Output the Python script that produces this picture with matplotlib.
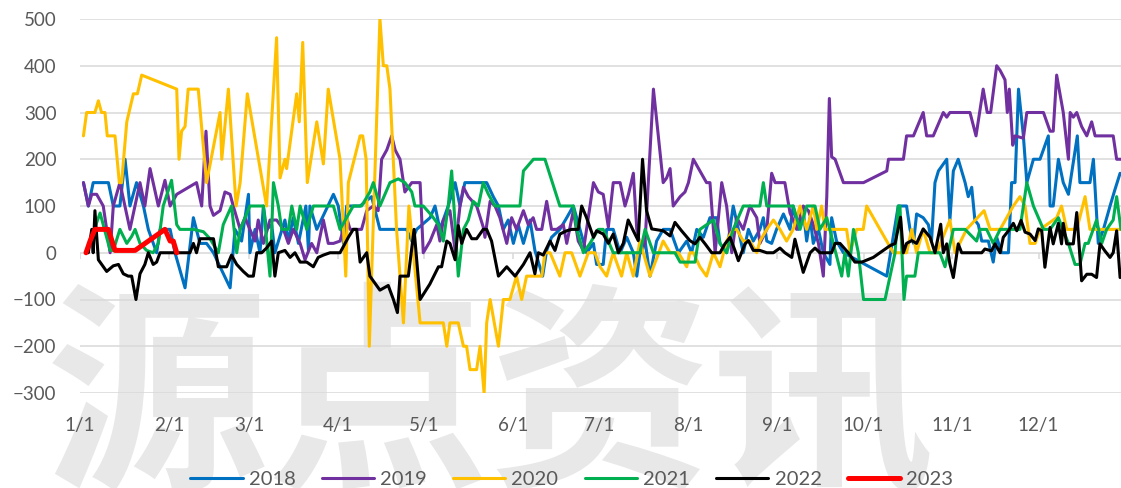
import matplotlib
matplotlib.use("Agg")
import matplotlib.pyplot as plt

# ---- data (day of year, value) ----
d2018 = [1.2, 2.9, 4.6, 9.9, 11.6, 13.9, 15.7, 17.4, 19.7, 22.1, 23.8, 26.7, 27.9, 31.4, 33.1, 36.6, 39.5, 41.8,
         44.1, 46.5, 48.8, 52.3, 54.0, 56.3, 58.7, 59.2, 61.0, 62.7, 63.9, 65.0, 66.8, 67.9, 71.4, 72.6, 74.3, 76.1,
         78.7, 79.6, 80.1, 82.5, 88.3, 90.0, 91.8, 92.9,
         97.6, 101.6, 104.5, 113.8, 115.6, 117.3, 122.0, 123.7, 125.4, 128.3, 130.7, 132.4, 134.1, 140.5,
         141.7, 144.0, 145.8, 147.5, 149.2, 151.0, 152.7, 154.5, 156.8, 158.5, 161.2, 162.6, 164.3, 167.2, 169.6,
         171.9, 174.2, 176.5, 178.9, 180.0, 182.3, 183.5, 185.8, 188.2,
         190.5, 192.8, 194.0, 195.1, 196.9, 198.6, 200.9, 203.2, 205.6, 208.5, 211.4, 213.1, 214.9, 217.2, 219.5,
         221.8, 223.0, 225.3, 227.6, 229.4, 231.1, 232.9, 234.6, 236.9,
         238.1, 239.3, 241.0, 242.7, 245.1, 247.4, 248.5, 250.3, 252.0, 253.2, 254.4, 255.5, 257.3, 259.0, 261.3,
         261.9, 263.6, 266.0, 281.1, 285.1,
         288.0, 289.2, 290.4, 291.5, 293.8, 295.6, 296.7, 297.9, 299.1, 302.0, 303.1, 304.3, 306.0, 308.4, 309.5,
         310.7, 311.8, 313.0, 314.2, 316.5, 318.2, 319.4, 321.1,
         323.5, 324.6, 325.8, 327.0, 328.7, 329.9, 332.2, 334.5, 337.4, 338.0, 339.1, 340.9, 342.6, 344.4, 347.5,
         348.4, 351.9, 353.1, 354.8, 356.6, 358.9, 360.6, 362.4]
v2018 = [150, 100, 150, 150, 100, 100, 200, 100, 150, 100, 50, 0, 50, 50, 0, -75, 75, 20,
         20, 0, -30, -75, 50, 25, 125, 0, 50, 0, 100, 50, 60, 0, 70, 25, 75, 20, 100, 5, 100, 50, 125, 100, 20, 100,
         100, 120, 50, 50, 25, 50, 75, 100, 50, 100, 150, 100, 150, 150,
         150, 120, 100, 50, 70, 20, 60, 20, 70, 5, -50, 5, 33, 50, 75, 100, 50, 0, 20, -25, -25, 50, 50, 0,
         33, 0, -50, 0, 25, -50, 25, 50, 50, 0, 25, 0, 50, 33, 75, 75, 20, 0, 100, 50, 0, 50, 25, 50,
         75, 25, 20, 50, 83, 50, 100, 50, 90, 25, 75, 20, 50, 0, -25, 75, 25, 0, -50, 100,
         100, 50, 20, 83, 75, 60, 25, 150, 175, 200, 70, 175, 200, 150, 120, 140, 70, 60, 25, 25, -20, 33, 0,
         0, 150, 150, 350, 250, 150, 200, 200, 250, 100, 100, 200, 150, 125, 250, 150, 150, 200, 20, 50, 100, 135, 170]

d2019 = [1.2, 2.9, 4.1, 5.8, 8.1, 10.5, 11.6, 13.9, 17.4, 20.9, 22.6, 24.4, 27.3, 29.6, 31.4, 33.7, 40.6, 42.4, 43.9,
         45.3, 46.5, 48.8, 50.5, 52.3, 53.4, 55.8, 57.5, 59.2, 61.0, 62.1, 63.9, 66.2, 68.5, 70.9, 72.6, 74.3, 76.7,
         78.4, 80.7, 82.5, 84.8, 86.5, 88.3, 90.6, 92.9,
         94.1, 98.1, 99.9, 102.2, 103.9, 105.1, 106.9, 108.6, 109.8, 111.5, 113.2, 115.6, 118.5, 119.6, 122.0,
         124.3, 125.4, 126.6, 128.9, 130.7, 132.4, 133.6, 135.3, 138.2, 140.5,
         141.1, 142.9, 144.6, 146.3, 148.7, 150.4, 152.1, 154.5, 156.2, 157.9, 159.1, 160.9, 162.6, 164.3, 166.1,
         168.4, 169.6, 171.9, 173.6, 175.4, 176.5, 178.9, 180.6, 182.3, 184.1, 185.8, 188.2,
         189.9, 191.1, 192.8, 194.0, 195.7, 196.9, 199.8, 203.2, 204.4, 205.6, 206.7, 209.1, 210.8, 212.0, 213.7,
         216.0, 218.3, 219.5, 221.3, 223.6, 225.3, 227.1, 228.8, 231.1, 233.4, 235.8,
         236.9, 239.3, 241.0, 242.2, 245.6, 247.4, 248.5, 249.7, 252.0, 253.8, 255.5, 257.3, 259.0, 260.2, 261.1,
         261.9, 263.1, 266.0, 273.0, 281.1, 281.7, 286.9, 288.0,
         290.4, 293.8, 295.0, 297.3, 300.8, 302.0, 303.1, 310.1, 312.2, 314.7, 316.1, 317.3, 319.4,
         320.6, 322.3, 323.1, 323.8, 325.0, 325.8, 328.7, 329.9, 335.7, 338.0, 339.1, 340.3, 342.6, 344.4, 345.0,
         346.1, 347.3, 349.0, 350.8, 352.5, 353.7, 360.0, 361.2, 362.7]
v2019 = [150, 100, 125, 125, 100, 0, 100, 150, 50, 150, 100, 180, 100, 155, 100, 125, 150, 100, 260,
         100, 80, 90, 130, 125, 100, 50, 75, 50, 25, 70, 20, 70, 70, 50, 20, 50, 20, -15, 20, 0, 70, 20, 20, 25, 75,
         50, 50, 90, 100, 90, 200, 220, 250, 220, 200, 130, 150, 150, 0, 25, 60, 25, 70, 90, 5, 100, 140, 120, 100, 55,
         33, 110, 100, 75, 20, 75, 50, 90, 60, 75, 50, 50, 110, 50, 50, 60, 20, 90, 25, 5, 50, 150, 130, 125, 55,
         150, 150,
         100, 125, 170, 50, 0, 25, 350, 150, 160, 180, 100, 120, 130, 150, 200, 175, 150, 150, 0, 150, 100, 0, 75, 50,
         100, 75,
         20, 50, 170, 150, 150, 85, 70, 50, 100, 90, 60, 20, -50, 120, 330, 205, 200, 150, 150, 175, 200, 200, 250,
         250, 300, 250, 250, 300, 290, 300, 300, 250, 350, 300, 300, 400,
         390, 370, 300, 350, 230, 250, 245, 300, 300, 260, 260, 380, 300, 200, 300, 290, 300, 270, 250, 280, 250,
         250, 200, 200]

d2020 = [1.2, 2.3, 5.2, 6.4, 7.5, 8.7, 9.5, 12.2, 13.7, 14.5, 16.3, 18.6, 20.0, 21.5, 33.7, 34.5, 35.4, 36.6, 37.7, 41.2,
         44.1, 48.8, 49.4, 51.7, 54.4, 55.8, 58.3, 65.0, 68.5, 69.7, 71.4, 72.0, 75.5, 76.4, 77.6, 79.2, 82.5, 84.8,
         86.5, 90.6, 92.6,
         93.5, 97.6, 98.5, 99.7, 100.8, 104.5, 105.7, 106.9, 108.0, 110.3, 112.7, 114.6, 118.5, 126.6, 127.8, 128.9,
         131.8, 133.6, 134.7, 135.9, 138.2, 139.4, 140.8, 141.7, 142.9,
         145.8, 147.5, 149.8, 152.1, 153.9, 155.6, 160.9, 162.0, 163.8, 167.2, 169.0, 171.3, 174.2, 177.1, 179.4,
         181.2, 183.5, 185.8, 188.7,
         190.5, 192.8, 195.1, 198.6, 203.2, 205.6, 208.5, 211.4, 212.5, 213.7, 216.0, 218.3, 220.7, 223.0, 225.3,
         227.6, 228.8, 231.1, 233.4, 235.8,
         236.9, 239.3, 241.6, 243.9, 246.2, 248.5, 250.9, 253.2, 255.5, 256.7, 258.4, 259.6, 263.6, 267.1, 268.3,
         270.6, 272.9, 274.1, 283.4, 288.0,
         289.8, 291.5, 293.8, 296.2, 298.5, 303.1, 304.9, 308.9, 315.0, 317.1, 320.6,
         325.2, 327.5, 329.3, 331.0, 332.8, 334.5, 340.3, 342.0, 343.8, 347.3, 350.2, 351.9, 362.7]
v2020 = [250, 300, 300, 325, 300, 300, 250, 250, 150, 150, 280, 340, 340, 380, 350, 200, 260, 270, 350, 350,
         150, 300, 200, 350, 100, 150, 340, 100, 460, 160, 200, 180, 340, 280, 450, 150, 280, 190, 350, 200, -50,
         150, 250, 250, 200, -200, 500, 400, 400, 350, 50, -150, 100, -150, -150, -200, -150, -150, -200, -200,
         -250, -250, -200, -300, -150, -100,
         -200, -100, -100, -50, -100, -50, -50, 0, 0, -50, 0, 0, -50, 0, 0, -30, -50, 0, -50,
         0, -50, 25, -50, 25, 0, 0, -30, 0, 0, -30, -50, 0, -30, 25, 50, 50, 25, 25, 0,
         25, 50, 70, 50, 25, 50, 100, 50, 100, 50, 100, 50, 50, 50, 0, 50, 50, 100, 0, 0,
         50, 0, 50, 0, 0, 70, 0, 50, 90, 50, 50,
         100, 120, 100, 20, 20, 50, 75, 100, 50, 50, 120, 50, 50]

d2021 = [3.5, 7.0, 10.5, 11.6, 13.9, 16.3, 18.0, 19.2, 20.9, 23.2, 25.5, 27.3, 29.0, 31.9, 33.7, 34.8, 39.5, 43.0,
         45.3, 48.2,
         49.9, 52.8, 54.6, 55.8, 59.2, 63.9, 66.2, 67.4, 69.1, 70.3, 72.6, 73.8, 75.5, 76.7, 79.0, 81.3, 88.3, 90.6,
         92.9, 95.2, 98.1, 101.0, 102.2, 104.5, 108.0, 110.9, 113.2, 115.6, 116.7, 119.6, 122.5, 124.9, 126.6,
         128.3, 129.5, 130.7, 131.8, 133.6, 135.3, 137.0, 138.8, 140.5,
         142.3, 144.6, 153.3, 154.5, 158.0, 162.0, 167.2, 171.9, 173.1, 175.4, 177.7, 180.6, 182.3, 185.8,
         195.1, 196.9, 199.8, 207.3, 209.1, 214.3, 216.0, 220.7, 223.0, 225.3, 227.6, 231.1, 236.9, 238.1,
         239.3, 248.5, 250.9, 253.2, 256.1, 257.8, 260.2, 265.4, 266.5, 267.7, 269.5, 271.2, 273.0, 280.5, 284.0,
         285.1, 285.7, 287.1,
         288.0, 290.9, 292.1, 296.2, 299.6, 301.4, 304.3, 308.4, 312.4, 313.6, 315.9, 318.2, 320.6,
         324.0, 327.5, 329.9, 332.2, 335.7, 338.0, 340.9, 344.4, 346.7, 348.4, 350.2, 351.3, 354.2, 356.0, 357.7,
         360.0, 361.2, 362.7]
v2021 = [25, 85, 5, 5, 50, 20, 35, 50, 20, 5, 0, 20, 100, 155, 60, 50, 50, 45, 30, 0,
         60, 100, 0, 50, 100, 100, -50, 150, 100, 50, 50, 100, 50, 100, 50, 100, 100, 50,
         75, 100, 100, 130, 150, 100, 150, 158, 150, 130, 100, 100, 80, 60, 25, 100, 175, 60, -50, 50, 70, 110, 100, 150,
         125, 100, 100, 175, 200, 200, 100, 100, 50, 0, 20, 50, 50, 0,
         0, 50, 0, 0, -20, -20, 50, 70, 20, 0, 50, 100, 100, 150,
         100, 100, 50, 100, 100, 50, 75, -50, 0, -50, 50, 0, -100, -100, 0, 100, 100, -100,
         -50, -50, 0, 0, 0, -30, 50, 50, 25, 50, 50, 20, 50,
         50, 50, 150, 100, 50, 50, 75, 20, -25, -25, 20, 20, 70, 20, 50, 70, 120, 50]

d2022 = [2.9, 4.1, 4.6, 5.2, 6.4, 9.3, 11.6, 13.4, 15.1, 16.8, 18.0, 19.5, 20.9, 22.6, 23.8, 25.5, 26.7, 27.9, 38.3,
         39.5, 40.6, 41.8,
         46.5, 48.2, 51.1, 52.8, 54.6, 56.9, 58.7, 60.4, 61.6, 63.3, 65.0, 66.8, 67.9, 69.1, 71.4, 73.2, 74.9, 76.7,
         79.0, 81.3, 83.0, 84.8, 87.1, 90.6, 93.5,
         95.2, 96.4, 97.6, 99.9, 101.0, 104.5, 107.4, 109.2, 110.6, 111.5, 114.4, 116.4, 118.5, 121.9, 124.9, 126.0,
         127.8, 128.9, 130.7, 131.8, 133.0, 134.7, 136.5, 138.2, 140.5,
         141.7, 143.4, 145.8, 148.7, 151.6, 154.5, 156.8, 158.5, 159.7, 161.4, 163.8, 165.5, 167.2, 169.6, 171.3,
         173.6, 174.8, 176.5, 178.9, 180.0, 182.3, 184.1, 185.8, 187.6, 189.3, 191.0,
         192.8, 194.5, 196.0, 197.4, 199.2, 203.2, 205.6, 207.3, 209.6, 212.5, 214.3, 216.0, 217.8, 220.1, 223.0,
         224.7, 226.5, 228.2, 229.4, 231.7, 232.9, 234.6, 236.9,
         239.3, 241.6, 243.9, 245.6, 248.0, 249.1, 252.0, 254.4, 256.1, 257.8, 261.9, 263.1, 264.8, 267.7, 270.0,
         272.4, 276.4, 279.9, 282.2, 284.0, 285.9, 286.9,
         288.0, 289.8, 291.5, 293.8, 296.2, 297.9, 299.9, 300.8, 302.0, 303.1, 304.3, 306.0, 307.2, 314.2, 315.3,
         317.6, 318.8, 320.6,
         321.7, 323.5, 325.2, 326.4, 327.9, 329.3, 331.0, 332.8, 333.9, 335.1, 336.2, 338.0, 339.1, 340.9, 342.0,
         342.6, 343.8, 346.1, 347.3, 349.0, 350.8, 352.5, 354.2, 355.4, 357.1, 358.9, 360.0, 361.2, 362.4]
v2022 = [0, 50, 0, 90, -15, -40, -28, -25, -45, -50, -50, -100, -45, -25, 0, -25, -20, 0, 0, 20, 0, 30,
         30, -30, -30, -5, -25, -40, -50, -50, 0, 0, 10, 25, -50, 0, 5, -10, 0, -20, -20, -30, -10, -5, 0, 0, 33,
         50, 50, -20, 0, -50, -80, -70, -100, -128, -50, -50, 50, -100, -67, -30, -30, 25, 20, -15, 58, 20, 50, 30,
         30, 50,
         50, 25, -50, -30, -50, -25, 0, -45, 0, -5, 25, 5, 40, 47, 50, 50, 100, 75, 33, 47, 40, 20, 40, 0, 20, 70,
         47, 26, 200, 90, 51, 47, 36, 65, 47, 26, 19, 33, 19, 0, 0, 19, 33, 5, -17, 19, 26, 5, 5,
         0, 0, 10, 0, -10, 29, -42, 0, 10, 0, 0, 20, 20, 0, -20, -20, -10, 5, 15, 20, 76, 0,
         20, 26, 20, 51, 33, 0, 61, 0, 19, -24, -53, 19, 0, 0, 8, 4, 19, 0,
         33, 47, 63, 47, 69, 44, 40, 26, 51, 47, -31, 54, 19, 63, 19, 63, 19, 19, 86, -60, -46, -46, -53, 19, 4,
         -10, 0, 47, -53]

d2023 = [2.1, 3.5, 5.2, 9.9, 12.2, 19.2, 29.6, 31.4, 32.5, 33.7]
v2023 = [0, 25, 50, 50, 5, 5, 50, 25, 25, 0]

month_days = [0, 31, 59, 90, 120, 151, 181, 212, 243, 273, 304, 334]
month_labels = ["1/1", "2/1", "3/1", "4/1", "5/1", "6/1", "7/1", "8/1", "9/1", "10/1", "11/1", "12/1"]

series = [("2018", d2018, v2018, "#0070C0", 2.2),
          ("2019", d2019, v2019, "#7030A0", 2.2),
          ("2020", d2020, v2020, "#FFC000", 2.2),
          ("2021", d2021, v2021, "#00B050", 2.2),
          ("2022", d2022, v2022, "#000000", 2.2),
          ("2023", d2023, v2023, "#FF0000", 3.6)]

plt.rcParams["font.family"] = ["Lato", "DejaVu Sans"]
TXT = "#595959"; GRID = "#d9d9d9"

fig = plt.figure(figsize=(11.21, 4.88), dpi=100)
ax = fig.add_axes([80/1121, 1-393/488, 1041/1121, 374/488])
ax.patch.set_visible(False)

# watermark behind everything
fig.text(0.437, 0.40, "源点资讯", fontsize=160, color="#e8e8e8", fontweight="bold",
         family=["Noto Sans CJK SC", "DejaVu Sans"], ha="center", va="top", zorder=-1)

for name, d, v, c, lw in series:
    ax.plot(d, v, color=c, lw=lw, label=name, solid_joinstyle="round", solid_capstyle="round")

ax.set_xlim(0, 1041/2.87)
ax.set_ylim(-300, 500)
ax.set_yticks(range(-300, 501, 100))
ax.grid(axis="y", color=GRID, lw=1.1, zorder=0)
ax.set_axisbelow(True)
ax.vlines(month_days, -13, 0, color=GRID, lw=1.1, zorder=1)
for s in ax.spines.values():
    s.set_visible(False)
ax.set_xticks(month_days, month_labels)
ax.tick_params(axis="x", length=0, pad=17.5, labelsize=13.5, labelcolor=TXT)
ax.tick_params(axis="y", length=0, pad=17, labelsize=13.5, labelcolor=TXT)

fig.legend(loc="center", bbox_to_anchor=(0.51, 0.018), ncol=6, frameon=False, fontsize=14.5,
           handlelength=2.6, handletextpad=0.3, columnspacing=1.3, labelcolor=TXT)

fig.savefig("out.png", dpi=100)
